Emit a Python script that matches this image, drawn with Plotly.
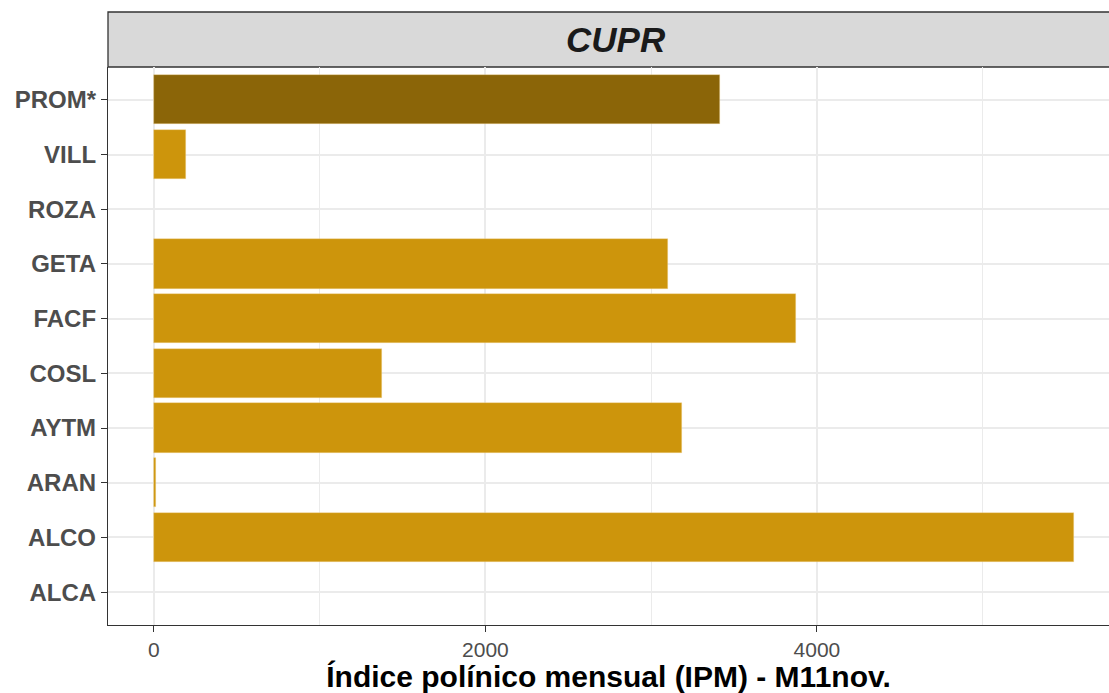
import plotly.graph_objects as go

# data (bottom to top, as drawn)
estaciones = ["ALCA", "ALCO", "ARAN", "AYTM", "COSL", "FACF", "GETA", "ROZA", "VILL", "PROM*"]
ipm = [None, 5550, 12, 3185, 1378, 3873, 3102, None, 193, 3417]
panel = "CUPR"
x_ticks = [0, 2000, 4000]

colores = ["#8B6508" if e == "PROM*" else "#CD950C" for e in estaciones]

fig = go.Figure()

fig.add_trace(go.Bar(
    x=ipm,
    y=estaciones,
    orientation="h",
    width=0.9,
    marker=dict(color=colores, line=dict(color="rgba(240,210,140,0.6)", width=0.6)),
    showlegend=False,
))

# strip (facet label) like ggplot theme_bw
fig.add_shape(type="rect", xref="paper", yref="paper",
              x0=0, x1=1.02, y0=1, y1=1 + 55 / 558,
              fillcolor="#D9D9D9", line=dict(color="#333333", width=1.3),
              layer="below")
fig.add_annotation(text="<b><i>" + panel + "</i></b>", xref="paper", yref="paper",
                   x=0.5075, y=1 + 27.5 / 558, showarrow=False,
                   font=dict(family="Liberation Sans", size=35, color="#1A1A1A"),
                   xanchor="center", yanchor="middle")

fig.update_layout(
    width=1109, height=693,
    margin=dict(l=108, r=0, t=67, b=68),
    plot_bgcolor="white", paper_bgcolor="white",
    font=dict(family="Liberation Sans"),
    bargap=0,
    xaxis=dict(
        range=[-277, 5762],
        tickvals=x_ticks,
        ticktext=[str(v) for v in x_ticks],
        tickfont=dict(size=21, color="#4D4D4D"),
        ticks="outside", ticklen=6, tickwidth=1.3, tickcolor="#333333",
        showgrid=True, gridcolor="#EBEBEB", gridwidth=1.5,
        minor=dict(tickvals=[1000, 3000, 5000], showgrid=True, gridcolor="#EBEBEB", gridwidth=0.8),
        showline=True, linecolor="#333333", linewidth=1.3,
        zeroline=False,
        title=dict(text="<b>Índice polínico mensual (IPM) - M11nov.</b>",
                   font=dict(size=30, color="black"), standoff=2),
    ),
    yaxis=dict(
        range=[-0.6, 9.6],
        categoryorder="array", categoryarray=estaciones,
        tickfont=dict(size=24, color="#4D4D4D"),
        ticks="outside", ticklen=6, tickwidth=1.3, tickcolor="#333333",
        ticklabelstandoff=0,
        showgrid=True, gridcolor="#EBEBEB", gridwidth=1.5,
        showline=True, linecolor="#333333", linewidth=1.3,
        zeroline=False,
    ),
)
fig.update_yaxes(ticktext=["<b>" + e + "</b>" for e in estaciones], tickvals=estaciones)

fig.write_html("out.html", config={"displayModeBar": False},
               post_script="document.body.style.margin='0';document.body.style.overflow='hidden';")
